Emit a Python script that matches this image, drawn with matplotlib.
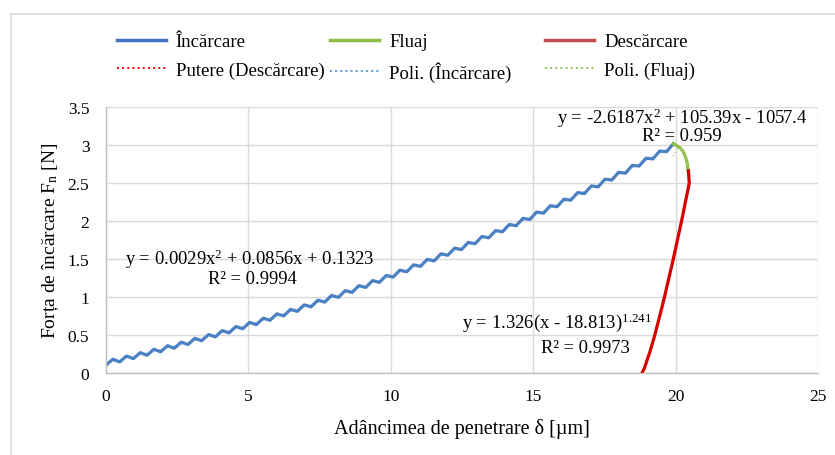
import matplotlib
matplotlib.use("Agg")
import matplotlib.pyplot as plt
from matplotlib.lines import Line2D
import numpy as np

plt.rcParams['font.family']=['Liberation Serif','DejaVu Serif']
plt.rcParams['mathtext.fontset']='custom'
plt.rcParams['mathtext.rm']='Liberation Serif'
plt.rcParams['mathtext.it']='Liberation Serif:italic'

# Incarcare (loading) - wavy curve, read every quarter wave
x_inc=[0.00,0.12,0.24,0.36,0.48,0.60,0.72,0.84,0.96,1.08,1.20,1.32,1.44,1.56,1.68,1.80,1.92,2.04,2.16,2.28,
       2.40,2.52,2.64,2.76,2.88,3.00,3.12,3.24,3.36,3.48,3.60,3.72,3.84,3.96,4.08,4.20,4.32,4.44,4.56,4.68,
       4.80,4.92,5.04,5.16,5.28,5.40,5.52,5.64,5.76,5.88,6.00,6.12,6.24,6.36,6.48,6.60,6.72,6.84,6.96,7.08,
       7.20,7.32,7.44,7.56,7.68,7.80,7.92,8.04,8.16,8.28,8.40,8.52,8.64,8.76,8.88,9.00,9.12,9.24,9.36,9.48,
       9.60,9.72,9.84,9.96,10.08,10.20,10.32,10.44,10.56,10.68,10.80,10.92,11.04,11.16,11.28,11.40,11.52,11.64,11.76,11.88,
       12.00,12.12,12.24,12.36,12.48,12.60,12.72,12.84,12.96,13.08,13.20,13.32,13.44,13.56,13.68,13.80,13.92,14.04,14.16,14.28,
       14.40,14.52,14.64,14.76,14.88,15.00,15.12,15.24,15.36,15.48,15.60,15.72,15.84,15.96,16.08,16.20,16.32,16.44,16.56,16.68,
       16.80,16.92,17.04,17.16,17.28,17.40,17.52,17.64,17.76,17.88,18.00,18.12,18.24,18.36,18.48,18.60,18.72,18.84,18.96,19.08,
       19.20,19.32,19.44,19.56,19.68,19.80,19.92]
y_inc=[0.104,0.143,0.181,0.164,0.146,0.185,0.223,0.206,0.189,0.228,0.267,0.251,0.234,0.273,0.312,0.296,0.279,0.319,0.359,0.343,
       0.326,0.366,0.406,0.391,0.375,0.416,0.456,0.441,0.425,0.466,0.506,0.491,0.476,0.517,0.558,0.543,0.528,0.570,0.611,0.597,
       0.582,0.624,0.665,0.651,0.637,0.679,0.721,0.708,0.694,0.736,0.778,0.765,0.751,0.794,0.837,0.824,0.811,0.854,0.897,0.884,
       0.871,0.915,0.958,0.946,0.933,0.977,1.020,1.008,0.996,1.040,1.084,1.072,1.060,1.105,1.149,1.138,1.126,1.171,1.216,1.205,
       1.193,1.238,1.283,1.273,1.262,1.308,1.353,1.343,1.332,1.378,1.423,1.413,1.403,1.449,1.495,1.485,1.475,1.522,1.568,1.559,
       1.549,1.596,1.643,1.634,1.624,1.671,1.718,1.710,1.701,1.749,1.796,1.788,1.779,1.827,1.874,1.866,1.858,1.906,1.954,1.946,
       1.938,1.987,2.035,2.028,2.020,2.069,2.118,2.111,2.103,2.152,2.201,2.195,2.188,2.238,2.287,2.281,2.274,2.324,2.373,2.367,
       2.361,2.411,2.461,2.455,2.449,2.500,2.550,2.545,2.539,2.590,2.641,2.636,2.630,2.681,2.732,2.728,2.723,2.775,2.826,2.822,
       2.817,2.869,2.920,2.916,2.912,2.964,3.016]

# Fluaj (creep)
x_flu=[19.92,20.05,20.17,20.27,20.35,20.41,20.44]
y_flu=[3.016,2.99,2.96,2.91,2.84,2.76,2.66]

# Descarcare (unloading)
x_des=[20.45,20.48,20.35,20.21,20.07,19.92,19.77,19.61,19.45,19.27,19.10,19.00,18.90,18.82]
y_des=[2.66,2.50,2.26,2.00,1.76,1.50,1.26,1.00,0.76,0.50,0.28,0.17,0.06,0.00]

# trendline coefficients (as shown on chart)
poly_inc=[0.0029,0.0856,0.1323]
poly_flu=[-2.6187,105.39,-1057.4]
pow_a,pow_x0,pow_b=1.326,18.813,1.241

fig=plt.figure(figsize=(8.35,4.56),dpi=100)
ax=fig.add_axes([106/835,1-374/456,712/835,266/456])

ax.plot(x_inc,y_inc,color='#4A7EC2',lw=2.3,solid_joinstyle='round')
ax.plot(x_flu,y_flu,color='#8FBC45',lw=2.3)
ax.plot(x_des,y_des,color='#CC0000',lw=2.3)

xd=np.array(x_des)
ax.plot(xd,pow_a*np.clip(xd-pow_x0,0,None)**pow_b,color='#FF0000',lw=1,ls=':')
ax.plot(x_inc,np.polyval(poly_inc,x_inc),color='#5B9BD5',lw=1,ls=':',alpha=0.6)
ax.plot(x_flu,np.polyval(poly_flu,x_flu),color='#A9D18E',lw=1,ls=':')

ax.set_xlim(0,25)
ax.set_ylim(0,3.5)
ax.set_xticks([0,5,10,15,20,25])
ax.set_yticks([0,0.5,1,1.5,2,2.5,3,3.5])
ax.set_yticklabels(['0','0.5','1','1.5','2','2.5','3','3.5'])
ax.grid(True,color='#D9D9D9',lw=1)
ax.set_axisbelow(True)
for s in ['top','right']: ax.spines[s].set_visible(False)
for s in ['left','bottom']:
    ax.spines[s].set_color('#BFBFBF')
    ax.spines[s].set_linewidth(1)
ax.tick_params(length=0,labelsize=12.5)
ax.tick_params(axis='x',pad=11)
ax.tick_params(axis='y',pad=12)
ax.set_xlabel('Adâncimea de penetrare δ [µm]',fontsize=14.5,labelpad=10)
ax.set_ylabel('Forța de încărcare F$_\\mathrm{n}$ [N]',fontsize=14,labelpad=5)

# trendline equations
fs=13.4
ax.text(5.06,1.513,'y = 0.0029x$^{2}$ + 0.0856x + 0.1323',fontsize=fs,ha='center',va='center')
ax.text(5.13,1.237,'R² = 0.9994',fontsize=fs,ha='center',va='center')
ax.text(20.22,3.37,'y = -2.6187x$^{2}$ + 105.39x - 1057.4',fontsize=fs,ha='center',va='center')
ax.text(20.22,3.12,'R² = 0.959',fontsize=fs,ha='center',va='center')
ax.text(12.5,0.67,'y = 1.326(x - 18.813)$^{1.241}$',fontsize=fs,ha='left',va='center')
ax.text(15.27,0.34,'R² = 0.9973',fontsize=fs,ha='left',va='center')

# legend: three columns of two rows, like Excel
cols=[(['Încărcare','Putere (Descărcare)'],
       [Line2D([],[],color='#4472C4',lw=2.5),Line2D([],[],color='#FF0000',lw=1.4,ls=':')],117),
      (['Fluaj','Poli. (Încărcare)'],
       [Line2D([],[],color='#8FBC45',lw=2.5),Line2D([],[],color='#5B9BD5',lw=1.4,ls=':')],330),
      (['Descărcare','Poli. (Fluaj)'],
       [Line2D([],[],color='#C0504D',lw=2.5),Line2D([],[],color='#92C050',lw=1.4,ls=':')],545)]
for labs,hs,px in cols:
    lg=fig.legend(hs,labs,loc='upper left',bbox_to_anchor=(px/835,1-34/456),frameon=False,fontsize=13.5,
                  handlelength=2.6,handletextpad=0.55,labelspacing=0.6,borderpad=0,borderaxespad=0)

fig.add_artist(Line2D([11/835,1],[1-15/456,1-15/456],color='#D9D9D9',lw=1.2))
fig.add_artist(Line2D([11/835,11/835],[0,1-15/456],color='#D9D9D9',lw=1.2))

fig.savefig('out.png',dpi=100)
